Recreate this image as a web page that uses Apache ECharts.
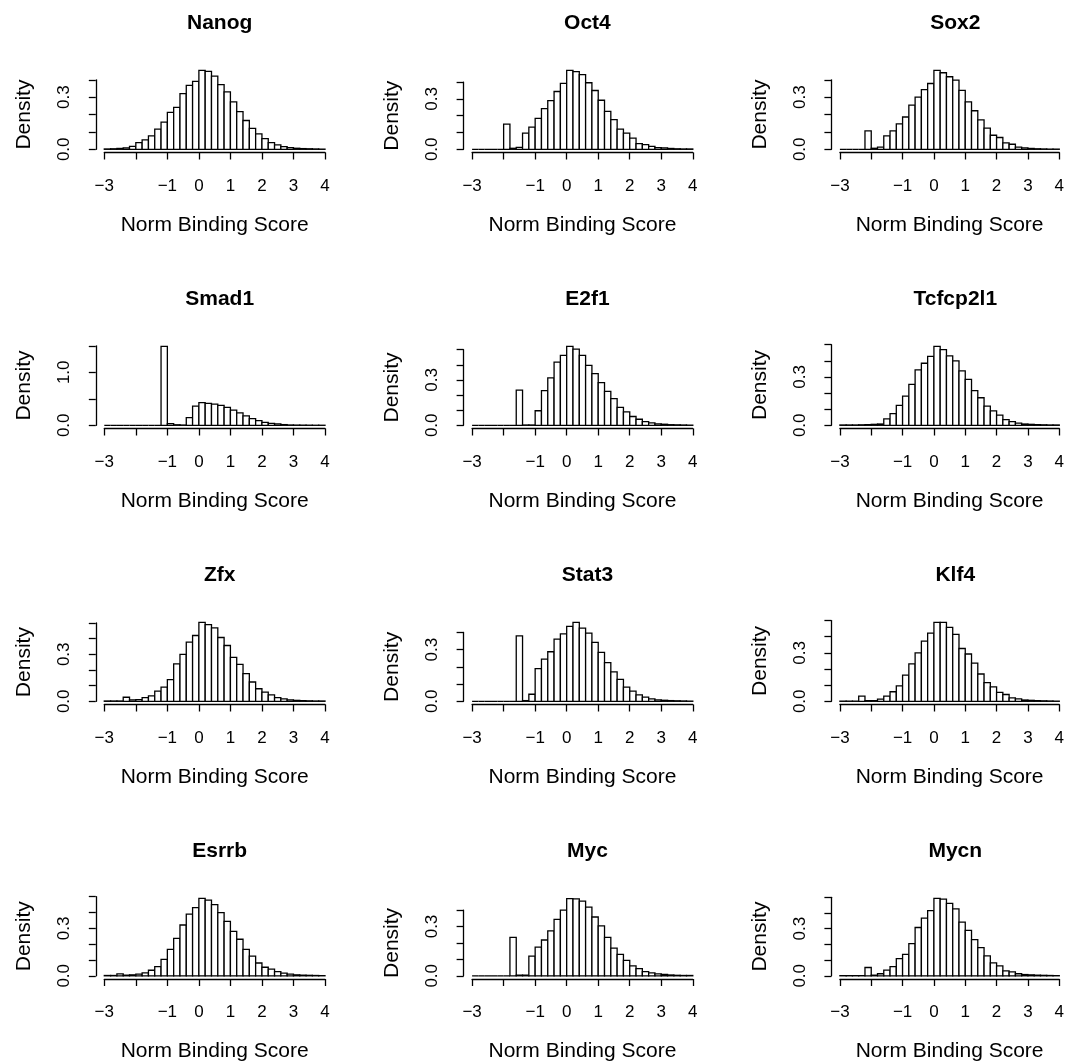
<!DOCTYPE html>
<html>
<head>
<meta charset="utf-8">
<script src="https://cdn.jsdelivr.net/npm/echarts@6/dist/echarts.min.js"></script>
<style>
  html, body { margin: 0; padding: 0; background: #fff; }
  #chart { width: 1067px; height: 1063px; }
</style>
</head>
<body>
<div id="chart"></div>
<script>
// histogram breaks: 35 bins of 0.2 starting at -3
const breakStart = -3;
const binWidth = 0.2;

const names = ['Nanog', 'Oct4', 'Sox2', 'Smad1', 'E2f1', 'Tcfcp2l1', 'Zfx', 'Stat3', 'Klf4', 'Esrrb', 'Myc', 'Mycn'];

// densities, one value per bin
const nanog = [0.002, 0.003, 0.005, 0.008, 0.017, 0.039, 0.054, 0.077, 0.116, 0.157, 0.213, 0.242, 0.321, 0.368, 0.391, 0.455, 0.449, 0.422, 0.373, 0.331, 0.273, 0.217, 0.166, 0.12, 0.089, 0.062, 0.039, 0.025, 0.015, 0.01, 0.006, 0.004, 0.003, 0.002, 0.001];
const oct4 = [0, 0, 0, 0, 0, 0.15, 0.006, 0.012, 0.096, 0.132, 0.184, 0.242, 0.29, 0.344, 0.392, 0.47, 0.462, 0.444, 0.396, 0.35, 0.292, 0.226, 0.176, 0.12, 0.096, 0.066, 0.034, 0.028, 0.018, 0.01, 0.008, 0.005, 0.003, 0.002, 0.002];
const sox2 = [0, 0, 0, 0, 0.106, 0.006, 0.012, 0.077, 0.106, 0.147, 0.186, 0.255, 0.3, 0.344, 0.379, 0.455, 0.441, 0.418, 0.398, 0.34, 0.273, 0.222, 0.17, 0.122, 0.081, 0.068, 0.037, 0.029, 0.012, 0.008, 0.005, 0.003, 0.002, 0.001, 0.001];
const smad1 = [0, 0, 0, 0, 0, 0, 0, 0, 0, 1.49, 0.03, 0.01, 0.005, 0.146, 0.363, 0.427, 0.414, 0.401, 0.376, 0.338, 0.287, 0.236, 0.178, 0.127, 0.089, 0.057, 0.038, 0.025, 0.013, 0.006, 0.004, 0.003, 0.002, 0.001, 0.001];
const e2f1 = [0, 0, 0, 0, 0, 0, 0, 0.233, 0.002, 0.002, 0.096, 0.229, 0.313, 0.418, 0.462, 0.522, 0.504, 0.462, 0.396, 0.342, 0.282, 0.224, 0.176, 0.118, 0.089, 0.058, 0.04, 0.024, 0.016, 0.009, 0.007, 0.004, 0.003, 0.002, 0.001];
const tcfcp2l1 = [0.002, 0.002, 0.002, 0.003, 0.004, 0.006, 0.008, 0.04, 0.073, 0.123, 0.181, 0.254, 0.344, 0.385, 0.427, 0.49, 0.469, 0.431, 0.4, 0.338, 0.285, 0.215, 0.171, 0.119, 0.09, 0.063, 0.035, 0.023, 0.013, 0.008, 0.006, 0.004, 0.003, 0.002, 0.002];
const zfx = [0.002, 0.002, 0.002, 0.026, 0.009, 0.011, 0.024, 0.034, 0.065, 0.09, 0.138, 0.239, 0.3, 0.377, 0.42, 0.504, 0.489, 0.468, 0.407, 0.356, 0.28, 0.235, 0.177, 0.123, 0.08, 0.058, 0.041, 0.024, 0.015, 0.009, 0.006, 0.004, 0.003, 0.002, 0.002];
const stat3 = [0, 0, 0, 0, 0, 0, 0, 0.38, 0.004, 0.041, 0.19, 0.245, 0.288, 0.361, 0.392, 0.435, 0.459, 0.425, 0.396, 0.343, 0.284, 0.225, 0.171, 0.127, 0.082, 0.059, 0.037, 0.024, 0.014, 0.008, 0.006, 0.004, 0.003, 0.002, 0.001];
const klf4 = [0.001, 0.001, 0.001, 0.032, 0.004, 0.004, 0.013, 0.032, 0.059, 0.095, 0.162, 0.232, 0.3, 0.373, 0.422, 0.489, 0.489, 0.458, 0.414, 0.327, 0.293, 0.236, 0.169, 0.116, 0.089, 0.055, 0.042, 0.021, 0.015, 0.008, 0.006, 0.004, 0.003, 0.002, 0.001];
const esrrb = [0.002, 0.002, 0.012, 0.004, 0.006, 0.01, 0.019, 0.035, 0.058, 0.104, 0.167, 0.237, 0.321, 0.39, 0.431, 0.49, 0.479, 0.45, 0.4, 0.344, 0.281, 0.231, 0.167, 0.125, 0.081, 0.054, 0.042, 0.027, 0.017, 0.01, 0.006, 0.004, 0.003, 0.002, 0.001];
const myc = [0, 0, 0, 0, 0, 0, 0.234, 0.004, 0.004, 0.12, 0.174, 0.218, 0.274, 0.344, 0.4, 0.47, 0.468, 0.454, 0.418, 0.358, 0.304, 0.234, 0.168, 0.13, 0.094, 0.06, 0.044, 0.026, 0.018, 0.012, 0.008, 0.005, 0.003, 0.002, 0.002];
const mycn = [0.001, 0.001, 0.001, 0.001, 0.053, 0.004, 0.013, 0.036, 0.059, 0.11, 0.137, 0.205, 0.308, 0.367, 0.416, 0.494, 0.489, 0.462, 0.426, 0.342, 0.289, 0.23, 0.179, 0.127, 0.082, 0.063, 0.032, 0.025, 0.013, 0.008, 0.006, 0.004, 0.003, 0.002, 0.001];

const densities = [nanog, oct4, sox2, smad1, e2f1, tcfcp2l1, zfx, stat3, klf4, esrrb, myc, mycn];

// axis ticks and the labels R kept
const xTicks = [-3, -2, -1, 0, 1, 2, 3, 4];
const xTickLabels = ['\u22123', '', '\u22121', '0', '1', '2', '3', '4'];
const yTickStep = [0.1, 0.1, 0.1, 0.5, 0.1, 0.1, 0.1, 0.1, 0.1, 0.1, 0.1, 0.1];
const yTickLabels = [[0, 0.3], [0, 0.3], [0, 0.3], [0, 1.0], [0, 0.3], [0, 0.3], [0, 0.3], [0, 0.3], [0, 0.3], [0, 0.3], [0, 0.3], [0, 0.3]];

const font = '"Liberation Sans", Arial, Helvetica, sans-serif';
const colPitch = 367.8, rowPitch = 276;
const xLeft0 = 104.3, xSpan = 220.7;   // px of x=-3 and width to x=4
const yZero0 = 149.3;                  // px of y=0 in first row
const plotH = 85.3;                    // plot region height

const chart = echarts.init(document.getElementById('chart'));

const grids = [], xAxes = [], yAxes = [], series = [], titles = [];

names.forEach((name, i) => {
  const r = Math.floor(i / 3), c = i % 3;
  const vals = densities[i];
  const M = Math.max(...vals);
  const k = plotH / (1.08 * M);
  const step = yTickStep[i];
  const top = Math.floor(1.04 * M / step + 1e-9) * step;
  const left = xLeft0 + c * colPitch;
  const y0 = yZero0 + r * rowPitch;

  grids.push({ left: left, top: y0 - top * k, width: xSpan, height: top * k });

  xAxes.push({
    gridIndex: i, type: 'value', min: -3, max: 4, interval: 1, offset: 3.2,
    axisLine: { show: true, onZero: false, lineStyle: { color: '#000', width: 1.3 } },
    axisTick: { show: true, length: 7, lineStyle: { color: '#000', width: 1.3 } },
    axisLabel: {
      color: '#000', fontSize: 17, fontFamily: font, margin: 25,
      formatter: v => { const j = xTicks.indexOf(Math.round(v)); return j < 0 ? '' : xTickLabels[j]; }
    },
    splitLine: { show: false },
    name: 'Norm Binding Score', nameLocation: 'middle', nameGap: 62,
    nameTextStyle: { color: '#000', fontSize: 21, fontFamily: font }
  });

  yAxes.push({
    gridIndex: i, type: 'value', min: 0, max: top, interval: step, offset: 8.5,
    axisLine: { show: true, onZero: false, lineStyle: { color: '#000', width: 1.3 } },
    axisTick: { show: true, length: 7, lineStyle: { color: '#000', width: 1.3 } },
    axisLabel: {
      color: '#000', fontSize: 17, fontFamily: font, margin: 23, rotate: 90,
      formatter: v => yTickLabels[i].some(t => Math.abs(t - v) < 1e-6) ? v.toFixed(1) : ''
    },
    splitLine: { show: false },
    name: 'Density', nameLocation: 'middle', nameGap: 61,
    nameTextStyle: { color: '#000', fontSize: 21, fontFamily: font }
  });

  titles.push({
    text: name, left: left + xSpan / 2, top: y0 - 142, textAlign: 'center',
    textStyle: { color: '#000', fontSize: 21, fontWeight: 'bold', fontFamily: font }
  });

  const data = vals.map((d, j) => [breakStart + j * binWidth, breakStart + (j + 1) * binWidth, d]);

  series.push({
    type: 'custom', xAxisIndex: i, yAxisIndex: i, clip: false, silent: true,
    data: data,
    encode: { x: [0, 1], y: 2 },
    renderItem: (params, api) => {
      const p0 = api.coord([api.value(0), 0]);
      const p1 = api.coord([api.value(1), api.value(2)]);
      return {
        type: 'rect',
        shape: { x: p0[0], y: p1[1], width: p1[0] - p0[0], height: p0[1] - p1[1] },
        style: { fill: '#fff', stroke: '#000', lineWidth: 1.3 }
      };
    }
  });
});

chart.setOption({
  animation: false,
  backgroundColor: '#fff',
  title: titles,
  grid: grids,
  xAxis: xAxes,
  yAxis: yAxes,
  series: series
});
</script>
</body>
</html>
